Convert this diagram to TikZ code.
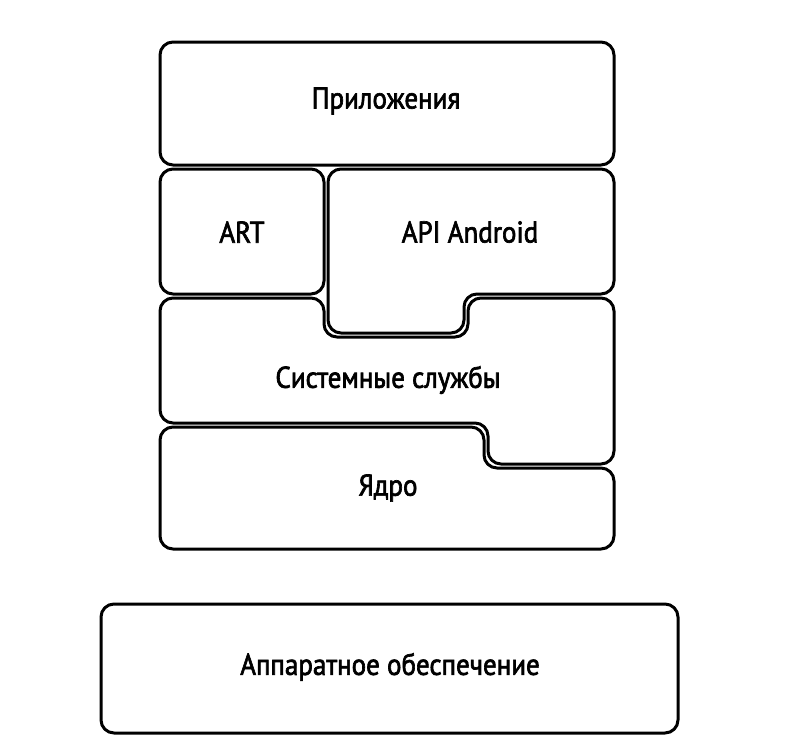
\documentclass[tikz,border=0pt]{standalone}
\usepackage{fontspec}
\setmainfont{PT Sans}[FakeStretch=0.9, FakeBold=2.2]
\usepackage{tikz}

\tikzset{
	layer/.style={draw=black, line width=3pt, rounded corners=13pt, line join=round},
	lbl/.style={font=\fontsize{30}{33}\selectfont, inner sep=0pt}
}

\begin{document}
\begin{tikzpicture}[x=1pt, y=-1pt]
		\useasboundingbox (0,0) rectangle (786,753);
		% applications
		\coordinate (P1) at (160,42);
		\coordinate (P2) at (614,165);
		\draw[layer] (P1) rectangle (P2);
		\node[lbl] (apps) at (386,101) {Приложения};
		% runtime
		\coordinate (R1) at (160,169);
		\coordinate (R2) at (324,294);
		\draw[layer] (R1) rectangle (R2);
		\node[lbl] (art) at (242,232) {ART};
		% framework with notch
		\draw[layer] (328,169) -- (614,169) -- (614,294) -- (464,294)
		-- (464,333) -- (328,333) -- cycle;
		\node[lbl] (api) at (470,232) {API Android};
		% system services
		\draw[layer] (160,298) -- (324,298) -- (324,337) -- (468,337)
		-- (468,298) -- (614,298) -- (614,464) -- (488,464)
		-- (488,423) -- (160,423) -- cycle;
		\node[lbl] (srv) at (388,380) {Системные службы};
		% kernel
		\draw[layer] (160,427) -- (484,427) -- (484,468) -- (614,468)
		-- (614,549) -- (160,549) -- cycle;
		\node[lbl] (krn) at (388,488) {Ядро};
		% hardware
		\coordinate (H1) at (101,604);
		\coordinate (H2) at (678,733);
		\draw[layer] (H1) rectangle (H2);
		\node[lbl] (hw) at (390,667) {Аппаратное обеспечение};
		\end{tikzpicture}
\end{document}
